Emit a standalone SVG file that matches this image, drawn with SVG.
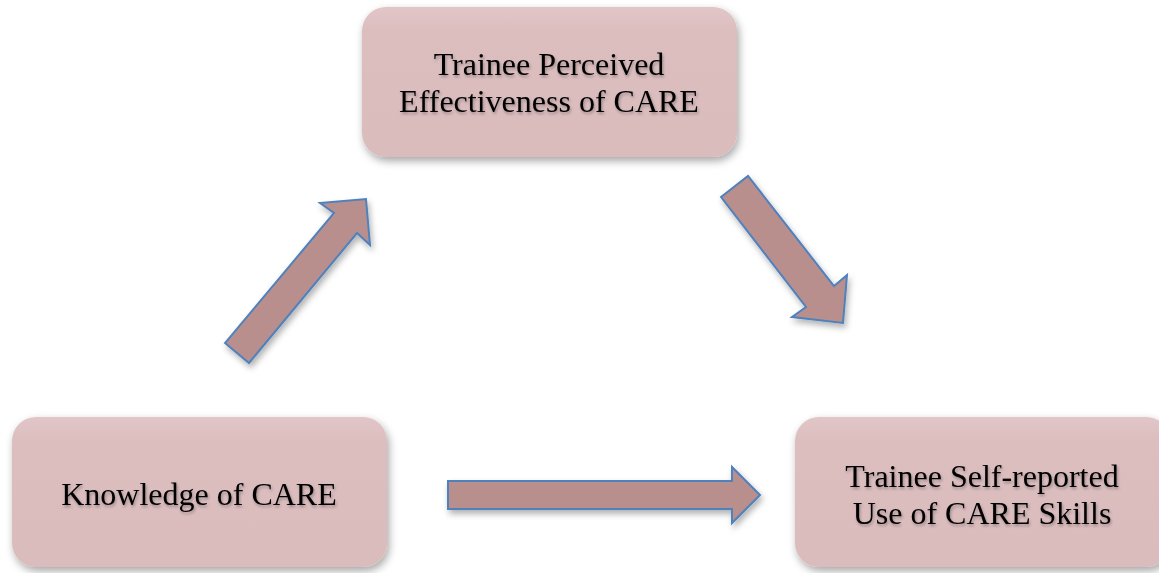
<svg xmlns="http://www.w3.org/2000/svg" width="1159" height="573" viewBox="0 0 1159 573">
  <style>
    .box { fill: url(#boxFill); filter: url(#boxShadow); }
    .label { font-family: "Liberation Serif", "Times New Roman", serif; font-size: 32px; fill: #000; text-anchor: middle; filter: url(#textShadow); }
    .arrow { fill: #b98f8d; stroke: #4f81bd; stroke-width: 2; stroke-linejoin: miter; filter: url(#arrowShadow); }
  </style>
  <defs>
    <linearGradient id="boxFill" x1="0" y1="0" x2="0" y2="1">
      <stop offset="0" stop-color="#e2c6c7"/>
      <stop offset="0.15" stop-color="#dcbebf"/>
      <stop offset="1" stop-color="#dabcbd"/>
    </linearGradient>
    <filter id="boxShadow" x="-10%" y="-10%" width="125%" height="135%">
      <feDropShadow dx="2" dy="4" stdDeviation="4" flood-color="#000" flood-opacity="0.35"/>
    </filter>
    <filter id="arrowShadow" x="-20%" y="-20%" width="150%" height="150%">
      <feDropShadow dx="2" dy="4" stdDeviation="3" flood-color="#000" flood-opacity="0.3"/>
    </filter>
    <filter id="textShadow" x="-5%" y="-20%" width="115%" height="160%">
      <feDropShadow dx="1" dy="2" stdDeviation="1.5" flood-color="#000" flood-opacity="0.3"/>
    </filter>
  </defs>

  <rect width="1159" height="573" fill="#ffffff"/>

  <g id="connectors">
    <!-- Knowledge -> Perceived Effectiveness -->
    <polygon id="arrow-up" class="arrow" points="225,343 249,363 357,233 370,245 366,199 320,203 334,213"/>
    <!-- Perceived Effectiveness -> Self-reported Use -->
    <polygon id="arrow-down" class="arrow" points="721,197 748,176 834,286 847,275 843,323 792,317 806,307"/>
    <!-- Knowledge -> Self-reported Use -->
    <polygon id="arrow-right" class="arrow" points="448,481 732,481 732,467 760,495 732,523 732,509 448,509"/>
  </g>

  <g id="node-effectiveness">
    <rect class="box" x="362" y="7" width="375" height="150" rx="24" ry="24"/>
    <text class="label" x="549" y="75">Trainee Perceived</text>
    <text class="label" x="549" y="112">Effectiveness of CARE</text>
  </g>

  <g id="node-knowledge">
    <rect class="box" x="12" y="417" width="375" height="150" rx="24" ry="24"/>
    <text class="label" x="199" y="505">Knowledge of CARE</text>
  </g>

  <g id="node-use">
    <rect class="box" x="795" y="417" width="375" height="150" rx="24" ry="24"/>
    <text class="label" x="982" y="487">Trainee Self-reported</text>
    <text class="label" x="982" y="524">Use of CARE Skills</text>
  </g>
</svg>
